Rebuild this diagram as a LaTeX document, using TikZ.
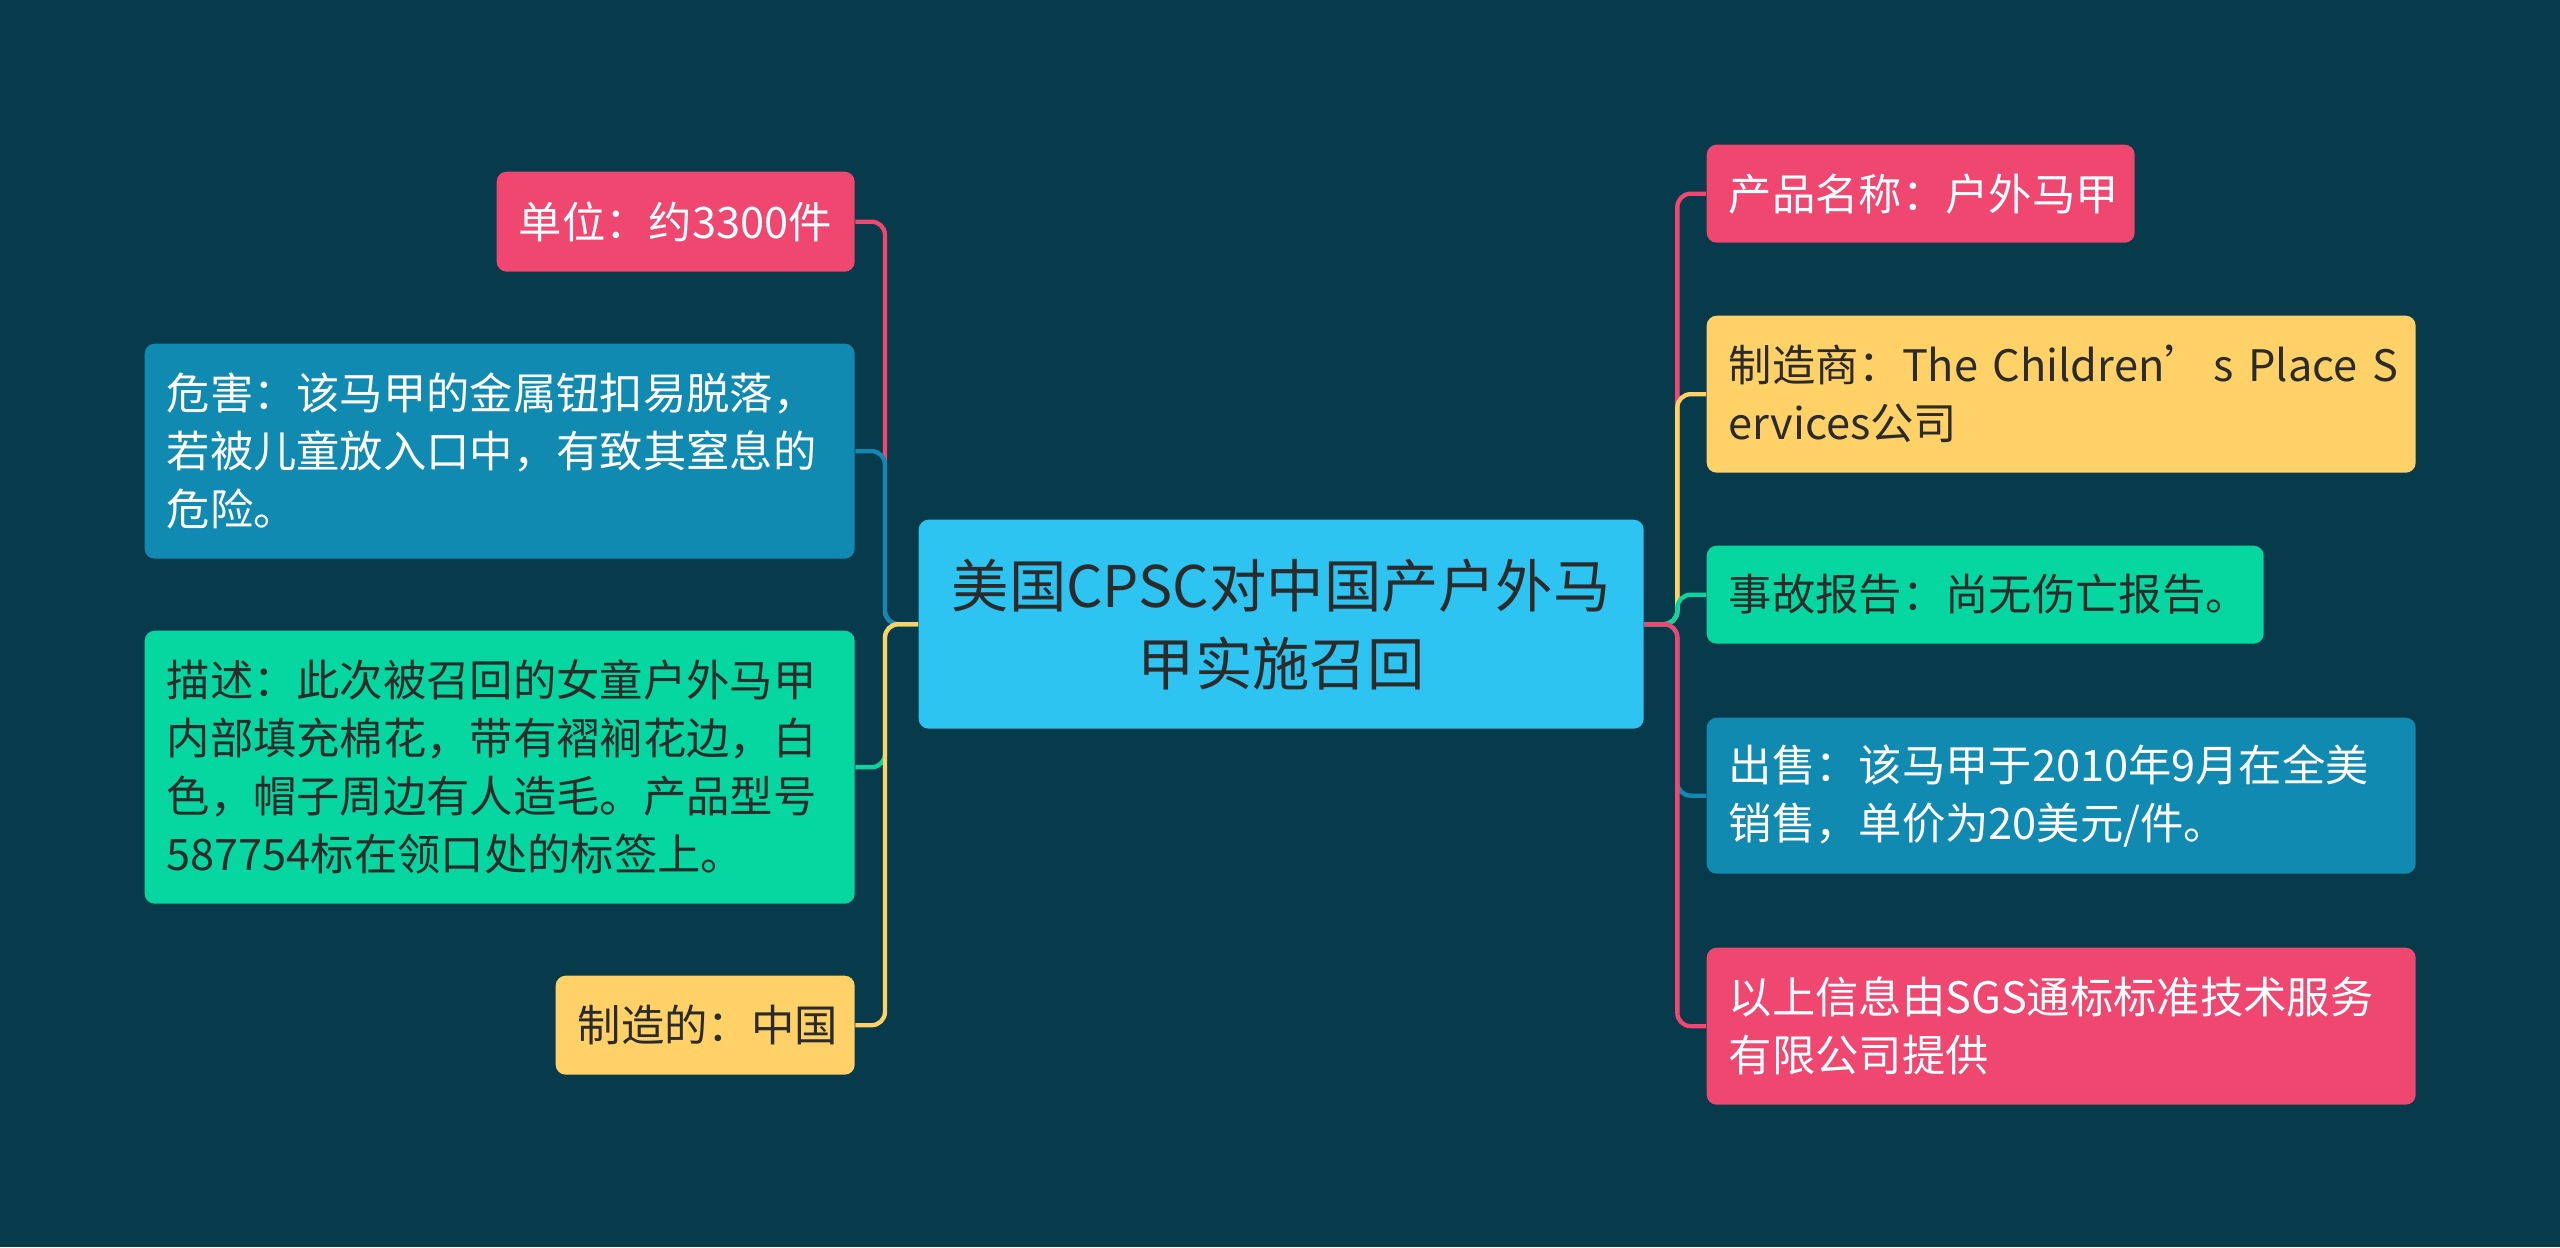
\documentclass[tikz,border=0pt]{standalone}
\usepackage{fontspec}
\setmainfont{Noto Sans CJK SC}
\definecolor{bg}{HTML}{073A4B}
\definecolor{cpink}{HTML}{EF476F}
\definecolor{cyel}{HTML}{FFD166}
\definecolor{cgreen}{HTML}{06D6A0}
\definecolor{cblue}{HTML}{118AB2}
\definecolor{ccenter}{HTML}{2EC4F2}
\definecolor{dtext}{HTML}{2B2B2B}
\begin{document}
\begin{tikzpicture}[x=0.3pt,y=-0.3pt,
  box/.style={rounded corners=3pt, inner xsep=6.6pt, inner ysep=0pt, anchor=north west,
    align=left, font=\fontsize{13.0}{17.4}\selectfont},
  sz/.style n args={3}{minimum width=#1pt, minimum height=#2pt, text width=#3pt},
  wt/.style={text=white},
  dk/.style={text=dtext},
  conn/.style={line width=1.3pt, rounded corners=4pt}]
\fill[bg] (0,0) rectangle (2560,1247);
\useasboundingbox (0,0) rectangle (2560,1247);
% center
\node[fill=ccenter, rounded corners=3pt, anchor=north west, minimum width=217.5pt, minimum height=62.7pt,
  text width=210pt, align=center, inner xsep=3.75pt, inner ysep=0pt, text=dtext,
  font=\fontsize{17.2}{23.4}\selectfont] (c) at (918,519) {美国CPSC对中国产户外马\\甲实施召回};
% left
\node[box, fill=cpink, wt, sz={107.4}{30}{94.2}] (n1) at (496,171) {单位：约3300件};
\node[box, fill=cblue, wt, sz={213}{64.5}{199.8}] (n2) at (144,343) {危害：该马甲的金属钮扣易脱落，\\若被儿童放入口中，有致其窒息的\\危险。};
\node[box, fill=cgreen, dk, sz={213}{81.9}{199.8}] (n3) at (144,630) {描述：此次被召回的女童户外马甲\\内部填充棉花，带有褶裥花边，白\\色，帽子周边有人造毛。产品型号\\587754标在领口处的标签上。};
\node[box, fill=cyel, dk, sz={89.7}{29.7}{76.5}] (n4) at (555,975) {制造的：中国};
% right
\node[box, fill=cpink, wt, sz={128.4}{29.4}{115.2}] (n5) at (1706,144) {产品名称：户外马甲};
\node[box, fill=cyel, dk, sz={212.7}{47.1}{199.5}] (n6) at (1706,315) {\mbox{制造商：The Children’ \hspace{-0.2em}s Place S}\\ervices公司};
\node[box, fill=cgreen, dk, sz={167.1}{29.4}{153.9}] (n7) at (1706,545) {事故报告：尚无伤亡报告。};
\node[box, fill=cblue, wt, sz={212.7}{46.8}{199.5}] (n8) at (1706,717) {出售：该马甲于2010年9月在全美\\销售，单价为20美元/件。};
\node[box, fill=cpink, wt, sz={212.7}{47.1}{199.5}] (n9) at (1706,947) {以上信息由SGS通标标准技术服务\\有限公司提供};
% connectors left
\draw[conn, cpink] (c.west) -- ++(-33,0) |- (n1.east);
\draw[conn, cblue] (c.west) -- ++(-33,0) |- (n2.east);
\draw[conn, cgreen] (c.west) -- ++(-33,0) |- (n3.east);
\draw[conn, cyel] (c.west) -- ++(-33,0) |- (n4.east);
% connectors right
\draw[conn, cpink] (c.east) -- ++(33,0) |- (n5.west);
\draw[conn, cyel] (c.east) -- ++(33,0) |- (n6.west);
\draw[conn, cgreen] (c.east) -- ++(33,0) |- (n7.west);
\draw[conn, cblue] (c.east) -- ++(33,0) |- (n8.west);
\draw[conn, cpink] (c.east) -- ++(33,0) |- (n9.west);
\end{tikzpicture}
\end{document}
